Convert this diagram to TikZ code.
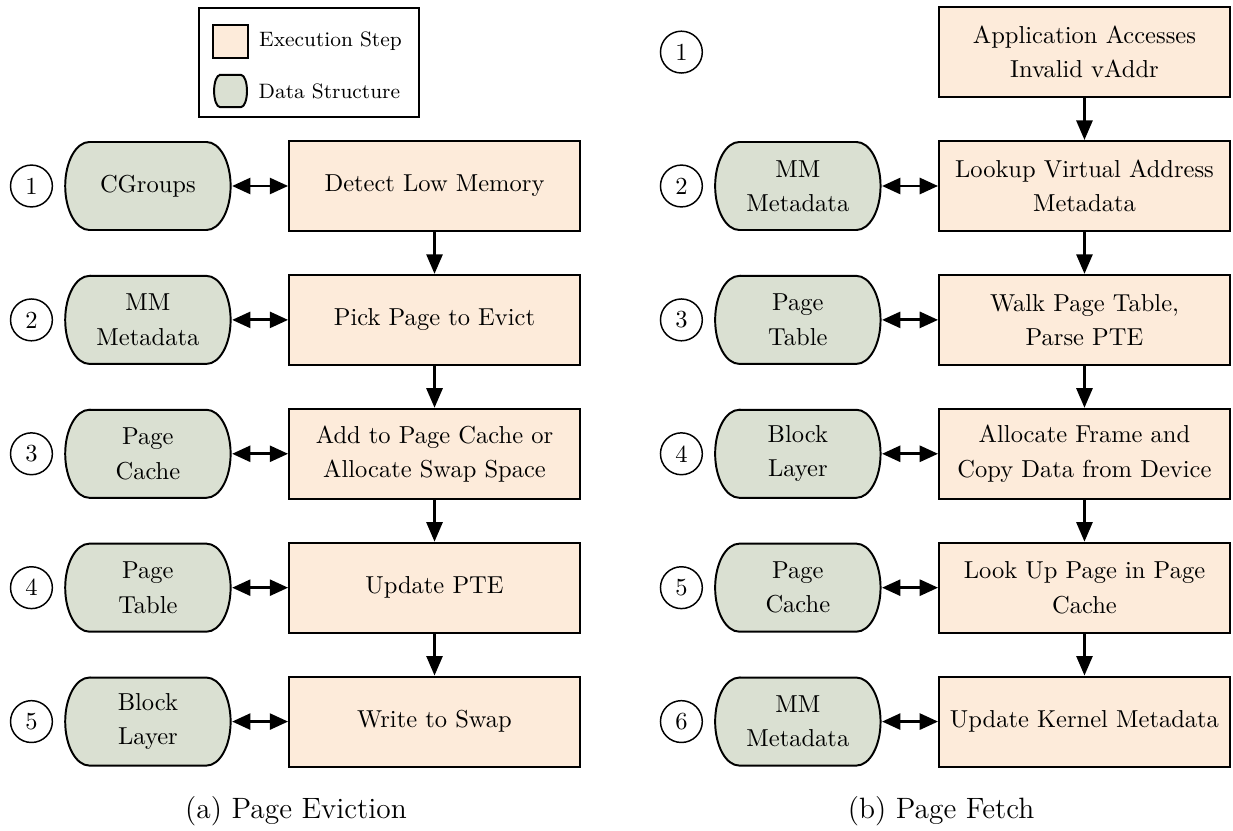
\documentclass[tikz,border=0pt]{standalone}
\usepackage{tikz}
\usetikzlibrary{arrows.meta, positioning}
\definecolor{stepfill}{HTML}{FDEBDA}
\definecolor{datafill}{HTML}{DAE0D2}
\tikzset{dshape/.style 2 args={path picture={
	\draw[line width=0.8pt, fill=datafill]
		([xshift=#1, yshift=-0.4pt]path picture bounding box.north west)
		-- ([xshift=-#1, yshift=-0.4pt]path picture bounding box.north east)
		arc[start angle=90, end angle=-90, x radius=#1-0.4pt, y radius=#2]
		-- ([xshift=#1, yshift=0.4pt]path picture bounding box.south west)
		arc[start angle=270, end angle=90, x radius=#1-0.4pt, y radius=#2]
		-- cycle;}}}
\tikzstyle{stepbox} = [rectangle, minimum width=4.17cm, minimum height=1.29cm, align=center, draw=black, line width=0.8pt, fill=stepfill, font=\fontsize{10}{14}\selectfont]
\tikzstyle{databox} = [rectangle, minimum width=2.4cm, minimum height=1.29cm, align=center, dshape={0.36cm}{0.645cm-0.4pt}, font=\fontsize{10}{14}\selectfont]
\tikzstyle{num} = [circle, draw=black, line width=0.6pt, minimum size=0.6cm, inner sep=0pt]
\tikzstyle{legendbox} = [rectangle, draw=black, line width=0.8pt, minimum width=3.16cm, minimum height=1.56cm]
\tikzstyle{legendtxt} = [font=\fontsize{8.5}{10}\selectfont, inner sep=0pt]
\tikzstyle{arrow} = [line width=1.2pt,-{Triangle[length=8pt,width=6.5pt]}]
\tikzstyle{dblarrow} = [line width=1.2pt,{Triangle[length=7.5pt,width=6.5pt]}-{Triangle[length=7.5pt,width=6.5pt]}]

\begin{document}
\begin{tikzpicture}[node distance=1.92cm]
		\useasboundingbox (-6.231,2.667) rectangle (11.450,-9.249);
		% legend
		\node (legend) [legendbox] at (-1.804,1.771) {};
		\node (legstep) [stepbox, minimum width=0.5cm, minimum height=0.47cm] at (-2.925,2.072) {};
		\node (legdata) [rectangle, minimum width=0.5cm, minimum height=0.49cm, inner sep=0pt, dshape={0.1cm}{0.245cm-0.4pt}] at (-2.925,1.362) {};
		\node (legsteptxt) [legendtxt, right=0.14cm of legstep] {Execution Step};
		\node (legdatatxt) [legendtxt, right=0.14cm of legdata] {Data Structure};
		
		% (a) page eviction
		\node (ev1) [stepbox] at (0,0) {Detect Low Memory};
		\node (ev2) [stepbox, below of=ev1] {Pick Page to Evict};
		\node (ev3) [stepbox, below of=ev2] {Add to Page Cache or\\Allocate Swap Space};
		\node (ev4) [stepbox, below of=ev3] {Update PTE};
		\node (ev5) [stepbox, below of=ev4] {Write to Swap};
		
		\node (evd1) [databox, left of=ev1, node distance=4.11cm] {CGroups};
		\node (evd2) [databox, left of=ev2, node distance=4.11cm] {MM\\Metadata};
		\node (evd3) [databox, left of=ev3, node distance=4.11cm] {Page\\Cache};
		\node (evd4) [databox, left of=ev4, node distance=4.11cm] {Page\\Table};
		\node (evd5) [databox, left of=ev5, node distance=4.11cm] {Block\\Layer};
		
		\node (evn1) [num, left of=evd1, node distance=1.67cm] {1};
		\node (evn2) [num, left of=evd2, node distance=1.67cm] {2};
		\node (evn3) [num, left of=evd3, node distance=1.67cm] {3};
		\node (evn4) [num, left of=evd4, node distance=1.67cm] {4};
		\node (evn5) [num, left of=evd5, node distance=1.67cm] {5};
		
		\draw [arrow] (ev1) -- (ev2);
		\draw [arrow] (ev2) -- (ev3);
		\draw [arrow] (ev3) -- (ev4);
		\draw [arrow] (ev4) -- (ev5);
		\draw [dblarrow] (evd1) -- (ev1);
		\draw [dblarrow] (evd2) -- (ev2);
		\draw [dblarrow] (evd3) -- (ev3);
		\draw [dblarrow] (evd4) -- (ev4);
		\draw [dblarrow] (evd5) -- (ev5);
		
		\node (capa) [anchor=base, font=\large] at (-1.986,-9.063) {(a) Page Eviction};
		
		% (b) page fetch
		\node (fe1) [stepbox] at (9.32,1.92) {Application Accesses\\Invalid vAddr};
		\node (fe2) [stepbox, below of=fe1] {Lookup Virtual Address\\Metadata};
		\node (fe3) [stepbox, below of=fe2] {Walk Page Table,\\Parse PTE};
		\node (fe4) [stepbox, below of=fe3] {Allocate Frame and\\Copy Data from Device};
		\node (fe5) [stepbox, below of=fe4] {Look Up Page in Page\\Cache};
		\node (fe6) [stepbox, below of=fe5] {Update Kernel Metadata};
		
		\node (fed2) [databox, left of=fe2, node distance=4.11cm] {MM\\Metadata};
		\node (fed3) [databox, left of=fe3, node distance=4.11cm] {Page\\Table};
		\node (fed4) [databox, left of=fe4, node distance=4.11cm] {Block\\Layer};
		\node (fed5) [databox, left of=fe5, node distance=4.11cm] {Page\\Cache};
		\node (fed6) [databox, left of=fe6, node distance=4.11cm] {MM\\Metadata};
		
		\node (fen1) [num, left of=fe1, node distance=5.78cm] {1};
		\node (fen2) [num, left of=fed2, node distance=1.67cm] {2};
		\node (fen3) [num, left of=fed3, node distance=1.67cm] {3};
		\node (fen4) [num, left of=fed4, node distance=1.67cm] {4};
		\node (fen5) [num, left of=fed5, node distance=1.67cm] {5};
		\node (fen6) [num, left of=fed6, node distance=1.67cm] {6};
		
		\draw [arrow] (fe1) -- (fe2);
		\draw [arrow] (fe2) -- (fe3);
		\draw [arrow] (fe3) -- (fe4);
		\draw [arrow] (fe4) -- (fe5);
		\draw [arrow] (fe5) -- (fe6);
		\draw [dblarrow] (fed2) -- (fe2);
		\draw [dblarrow] (fed3) -- (fe3);
		\draw [dblarrow] (fed4) -- (fe4);
		\draw [dblarrow] (fed5) -- (fe5);
		\draw [dblarrow] (fed6) -- (fe6);
		
		\node (capb) [anchor=base, font=\large] at (7.264,-9.063) {(b) Page Fetch};
	\end{tikzpicture}
\end{document}
